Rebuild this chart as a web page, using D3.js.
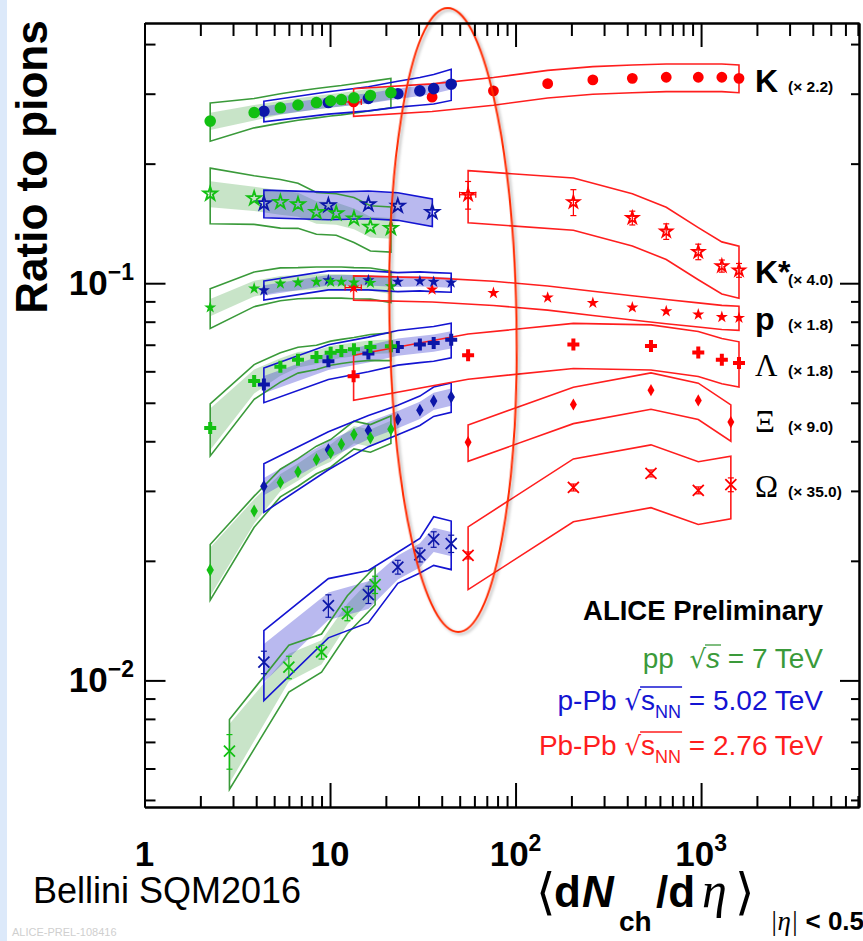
<!DOCTYPE html>
<html><head><meta charset="utf-8">
<script src="https://cdn.jsdelivr.net/npm/d3@7"></script>
<style>body{margin:0;background:#fff} svg{display:block}</style>
</head><body><svg id="c" width="863" height="941"></svg>
<script>
// ---------------- DATA (values as plotted, i.e. already scaled) ----------------
const ppMult        = [2.26, 3.90, 5.40, 6.72, 8.45, 10.08, 11.51, 13.46, 16.51, 21.29];
const ppKstarMult   = [2.26, 3.90, 5.40, 6.72, 8.45, 10.8, 13.46, 16.51, 21.29];
const ppOmegaMult   = [2.87, 6.0, 9.0, 12.4, 17.5];
const pPbMult       = [4.4, 9.8, 16.1, 23.2, 30.5, 36.2, 45.0];
const pPbKstarMult  = [4.4, 9.8, 16.1, 23.2, 35.6];
const PbPbMult      = [13.4, 35.5, 76, 149, 261, 426, 649, 966, 1294, 1601];
const PbPbKstarMult = [55.5, 205, 426, 649, 966, 1294, 1601];
const PbPbLambdaMult= [13.4, 55.5, 205, 537, 966, 1294, 1601];
const PbPbMSMult    = [55.5, 205, 537, 966, 1447];

// K (x 2.2)
const ppK   = [0.256, 0.269, 0.2765, 0.281, 0.285, 0.288, 0.290, 0.293, 0.297, 0.302];
const pPbK  = [0.271, 0.285, 0.292, 0.300, 0.305, 0.309, 0.317];
const PbPbK = [0.286, 0.294, 0.305, 0.318, 0.325, 0.328, 0.330, 0.330, 0.330, 0.328];
const ppKSys   = [0.11, 0.085, 0.085, 0.085, 0.085, 0.085, 0.085, 0.085, 0.085, 0.085];
const ppKBand  = [0.05, 0.045, 0.04, 0.04, 0.04, 0.04, 0.04, 0.04, 0.04, 0.04];
const pPbKSys  = [0.06, 0.065, 0.07, 0.075, 0.08, 0.085, 0.09];
const pPbKBand = [0.03, 0.03, 0.03, 0.03, 0.03, 0.03, 0.03];
const PbPbKSys = [0.08, 0.08, 0.08, 0.08, 0.08, 0.08, 0.08, 0.08, 0.08, 0.08];

// K* (x 4.0)
const ppKstar   = [0.168, 0.1635, 0.160, 0.158, 0.151, 0.150, 0.1455, 0.1386, 0.1377];
const pPbKstar  = [0.1588, 0.157, 0.158, 0.1565, 0.151];
const PbPbKstar = [0.167, 0.160, 0.146, 0.135, 0.120, 0.1105, 0.1078];
const ppKstarSys   = [0.16, 0.14, 0.14, 0.13, 0.12, 0.12, 0.13, 0.13, 0.13];
const ppKstarBand  = [0.075, 0.07, 0.07, 0.07, 0.065, 0.065, 0.06, 0.06, 0.06];
const pPbKstarSys  = [0.08, 0.08, 0.08, 0.08, 0.08];
const pPbKstarBand = [0.08, 0.08, 0.08, 0.08, 0.08];
const PbPbKstarSys = [0.15, 0.15, 0.15, 0.15, 0.15, 0.15, 0.15];
const PbPbKstarStat = [0.08, 0.075, 0.04, 0.045, 0.045, 0.035, 0.04];

// p (x 1.8)
const ppP   = [0.0869, 0.0970, 0.0998, 0.1004, 0.1008, 0.1008, 0.1008, 0.1004, 0.1002, 0.0983];
const pPbP  = [0.0960, 0.1018, 0.1018, 0.1008, 0.1012, 0.1008, 0.1004];
const PbPbP = [0.0975, 0.0964, 0.0945, 0.0920, 0.0892, 0.0869, 0.0850, 0.0834, 0.0822, 0.0818];
const ppPSys   = [0.115, 0.10, 0.095, 0.09, 0.09, 0.09, 0.09, 0.09, 0.09, 0.09];
const ppPBand  = [0.05, 0.045, 0.045, 0.045, 0.045, 0.045, 0.045, 0.045, 0.045, 0.045];
const pPbPSys  = [0.055, 0.055, 0.055, 0.055, 0.055, 0.055, 0.055];
const pPbPBand = [0.03, 0.03, 0.03, 0.03, 0.03, 0.03, 0.03];
const PbPbPSys = [0.07, 0.07, 0.07, 0.07, 0.07, 0.07, 0.07, 0.07, 0.07, 0.07];

// Lambda (x 1.8)
const ppL   = [0.0432, 0.0567, 0.0616, 0.0642, 0.0652, 0.0668, 0.0675, 0.0682, 0.0691, 0.0694];
const pPbL  = [0.0556, 0.0636, 0.0665, 0.0691, 0.0701, 0.0707, 0.0721];
const PbPbL = [0.0583, 0.0659, 0.0701, 0.0695, 0.0669, 0.0642, 0.0630];
const ppLSys   = [0.15, 0.10, 0.085, 0.075, 0.07, 0.07, 0.07, 0.07, 0.075, 0.08];
const ppLBand  = [0.12, 0.07, 0.05, 0.045, 0.04, 0.04, 0.04, 0.04, 0.04, 0.04];
const pPbLSys  = [0.10, 0.10, 0.10, 0.10, 0.10, 0.10, 0.10];
const pPbLBand = [0.05, 0.05, 0.05, 0.05, 0.05, 0.05, 0.05];
const PbPbLSys = [0.13, 0.13, 0.13, 0.13, 0.13, 0.13, 0.13];

// Xi (x 9.0)
const ppXi   = [0.01896, 0.0267, 0.0315, 0.0335, 0.0360, 0.0374, 0.0393, 0.0416, 0.0408, 0.0429];
const pPbXi  = [0.0308, 0.0381, 0.0426, 0.0454, 0.0479, 0.0505, 0.0517];
const PbPbXi = [0.0398, 0.0495, 0.0538, 0.0507, 0.0447];
const ppXiSys   = [0.16, 0.09, 0.08, 0.08, 0.08, 0.08, 0.08, 0.08, 0.08, 0.08];
const ppXiBand  = [0.14, 0.07, 0.05, 0.05, 0.05, 0.05, 0.05, 0.05, 0.05, 0.05];
const pPbXiSys  = [0.14, 0.11, 0.09, 0.085, 0.085, 0.085, 0.085];
const pPbXiBand = [0.05, 0.05, 0.05, 0.05, 0.05, 0.05, 0.05];
const PbPbXiSys = [0.105, 0.105, 0.105, 0.105, 0.105];

// Omega (x 35.0)
const ppOm   = [0.00664, 0.0108, 0.01179, 0.01472, 0.01742];
const pPbOm  = [0.01112, 0.01542, 0.01644, 0.01929, 0.0207, 0.02265, 0.0221];
const PbPbOm = [0.02064, 0.0306, 0.0332, 0.0301, 0.0311];
const ppOmSys   = [0.20, 0.135, 0.11, 0.11, 0.11];
const ppOmBand  = [0.17, 0.08, 0.07, 0.06, 0.06];
const pPbOmSys  = [0.20, 0.17, 0.15, 0.09, 0.10, 0.14, 0.14];
const pPbOmBand = [0.11, 0.08, 0.08, 0.07, 0.07, 0.07, 0.07];
const PbPbOmSys = [0.18, 0.18, 0.18, 0.18, 0.18];
const ppOmStat   = [0.10, 0.065, 0.04, 0.04, 0.05];
const pPbOmStat  = [0.065, 0.065, 0.05, 0.04, 0.04, 0.045, 0.05];
const PbPbOmStat = [0.02, 0.02, 0.02, 0.02, 0.04];

// labels
const speciesNames  = ["K", "K*", "p", "Λ", "Ξ", "Ω"];
const speciesScales = ["(× 2.2)", "(× 4.0)", "(× 1.8)", "(× 1.8)", "(× 9.0)", "(× 35.0)"];
const xTickLabels = [{v:1, b:"1", s:""}, {v:10, b:"10", s:""}, {v:100, b:"10", s:"2"}, {v:1000, b:"10", s:"3"}];
const yTickLabels = [{v:0.1, b:"10", s:"−1"}, {v:0.01, b:"10", s:"−2"}];

// ---------------- DRAWING ----------------
const SANS = "'Liberation Sans', Arial, Helvetica, sans-serif";
const SERIF = "'Liberation Serif', 'Times New Roman', serif";
const svg = d3.select("#c");
svg.append("rect").attr("width",863).attr("height",941).attr("fill","#fff");
svg.append("rect").attr("width",7).attr("height",941).attr("fill","#dce9fa");

const X0=144.5, X1=859, Y0=807, Y1=23;
const x = d3.scaleLog().domain([1, 7100]).range([X0, X1]);
const y = d3.scaleLog().domain([0.0048, 0.452]).range([Y0, Y1]);

const defs = svg.append("defs");
const filt = defs.append("filter").attr("id","sh").attr("x","-30%").attr("y","-10%").attr("width","160%").attr("height","120%");
filt.append("feDropShadow").attr("dx",2).attr("dy",2).attr("stdDeviation",1.5).attr("flood-color","#000").attr("flood-opacity",0.3);

const C = {
  pp:   {mk:"#12c012", ln:"#3a9a3a", band:"rgba(118,188,118,0.40)"},
  pPb:  {mk:"#0c16a8", ln:"#1414d2", band:"rgba(60,60,210,0.36)"},
  PbPb: {mk:"#ff0000", ln:"#ff1e1e"}
};

const xSym = { draw(ctx, size){ const r=Math.sqrt(size)/2; ctx.moveTo(-r,-r); ctx.lineTo(r,r); ctx.moveTo(-r,r); ctx.lineTo(r,-r);} };

const series = [
  {sys:"pp",  xs:ppMult,       ys:ppK,     e:ppKSys,     b:ppKBand,     m:"circle", sz:106},
  {sys:"pPb", xs:pPbMult,      ys:pPbK,    e:pPbKSys,    b:pPbKBand,    m:"circle", sz:106},
  {sys:"PbPb",xs:PbPbMult,     ys:PbPbK,   e:PbPbKSys,                  m:"circle", sz:92, hx:[0.1]},
  {sys:"pp",  xs:ppKstarMult,  ys:ppKstar, e:ppKstarSys, b:ppKstarBand, m:"ostar", sz:58},
  {sys:"pPb", xs:pPbKstarMult, ys:pPbKstar,e:pPbKstarSys,b:pPbKstarBand,m:"ostar", sz:58},
  {sys:"PbPb",xs:PbPbKstarMult,ys:PbPbKstar,e:PbPbKstarSys,             m:"ostar", sz:44, st:PbPbKstarStat, hx:[0.1]},
  {sys:"pp",  xs:ppMult,       ys:ppP,     e:ppPSys,     b:ppPBand,     m:"star", sz:46},
  {sys:"pPb", xs:pPbMult,      ys:pPbP,    e:pPbPSys,    b:pPbPBand,    m:"star", sz:46},
  {sys:"PbPb",xs:PbPbMult,     ys:PbPbP,   e:PbPbPSys,                  m:"star", sz:46, hx:[0.1]},
  {sys:"pp",  xs:ppMult,       ys:ppL,     e:ppLSys,     b:ppLBand,     m:"cross", sz:80},
  {sys:"pPb", xs:pPbMult,      ys:pPbL,    e:pPbLSys,    b:pPbLBand,    m:"cross", sz:80},
  {sys:"PbPb",xs:PbPbLambdaMult,ys:PbPbL,  e:PbPbLSys,                  m:"cross", sz:80},
  {sys:"pp",  xs:ppMult,       ys:ppXi,    e:ppXiSys,    b:ppXiBand,    m:"diamond", sz:48},
  {sys:"pPb", xs:pPbMult,      ys:pPbXi,   e:pPbXiSys,   b:pPbXiBand,   m:"diamond", sz:48},
  {sys:"PbPb",xs:PbPbMSMult,   ys:PbPbXi,  e:PbPbXiSys,                 m:"diamond", sz:42},
  {sys:"pp",  xs:ppOmegaMult,  ys:ppOm,    e:ppOmSys,    b:ppOmBand,    m:"x", sz:121, st:ppOmStat},
  {sys:"pPb", xs:pPbMult,      ys:pPbOm,   e:pPbOmSys,   b:pPbOmBand,   m:"x", sz:121, st:pPbOmStat},
  {sys:"PbPb",xs:PbPbMSMult,   ys:PbPbOm,  e:PbPbOmSys,                 m:"x", sz:121, st:PbPbOmStat}
];

function envelope(s, rel){
  const up = s.xs.map((v,i)=>[x(v), y(s.ys[i]*(1+rel[i]))]);
  const lo = s.xs.map((v,i)=>[x(v), y(s.ys[i]*(1-rel[i]))]).reverse();
  return d3.line()(up.concat(lo)) + "Z";
}

const gBand = svg.append("g"), gOut = svg.append("g"), gErr = svg.append("g"), gMk = svg.append("g");
["pp","pPb"].forEach(sy => series.filter(s=>s.sys===sy && s.b).forEach(s=>{
  gBand.append("path").attr("d", envelope(s, s.b)).attr("fill", C[sy].band).attr("stroke","none");
}));
["pp","pPb","PbPb"].forEach(sy => series.filter(s=>s.sys===sy).forEach(s=>{
  gOut.append("path").attr("d", envelope(s, s.e)).attr("fill","none")
    .attr("stroke", C[sy].ln).attr("stroke-width",1.6).attr("stroke-linejoin","miter");
}));

const symType = {circle:d3.symbolCircle, ostar:d3.symbolStar, star:d3.symbolStar, cross:d3.symbolCross, diamond:d3.symbolDiamond, x:xSym};
["PbPb","pPb","pp"].forEach(sy => series.filter(s=>s.sys===sy).forEach(s=>{
  const col = C[sy].mk;
  if (s.st) s.xs.forEach((v,i)=>{
    const px=x(v), ya=y(s.ys[i]*(1+s.st[i])), yb=y(s.ys[i]*(1-s.st[i]));
    gErr.append("line").attr("x1",px).attr("x2",px).attr("y1",ya).attr("y2",yb).attr("stroke",col).attr("stroke-width",1.2);
    [ya,yb].forEach(yy=>gErr.append("line").attr("x1",px-3).attr("x2",px+3).attr("y1",yy).attr("y2",yy).attr("stroke",col).attr("stroke-width",1.2));
  });
  if (s.hx) s.hx.forEach((h,i)=>{
    const py=y(s.ys[i]), xa=x(s.xs[i]*(1-h)), xb=x(s.xs[i]*(1+h));
    gErr.append("line").attr("x1",xa).attr("x2",xb).attr("y1",py).attr("y2",py).attr("stroke",col).attr("stroke-width",1.2);
    [xa,xb].forEach(xx=>gErr.append("line").attr("x1",xx).attr("x2",xx).attr("y1",py-3).attr("y2",py+3).attr("stroke",col).attr("stroke-width",1.2));
  });
  const sym = d3.symbol().type(symType[s.m]).size(s.sz);
  s.xs.forEach((v,i)=>{
    const p = gMk.append("path").attr("d", sym()).attr("transform",`translate(${x(v)},${y(s.ys[i])})`);
    if (s.m==="ostar") p.attr("fill","none").attr("stroke",col).attr("stroke-width",1.8).attr("stroke-linejoin","miter");
    else if (s.m==="x") p.attr("fill","none").attr("stroke",col).attr("stroke-width",1.8);
    else p.attr("fill",col);
  });
}));

// ellipse highlight
svg.append("ellipse").attr("cx",453).attr("cy",320).attr("rx",63.5).attr("ry",312)
  .attr("transform","rotate(-1,453,320)").attr("fill","none").attr("stroke","#ff2a00").attr("stroke-width",2)
  .attr("filter","url(#sh)");

// axes
const xMajor=[1,10,100,1000], yMajor=[0.01,0.1];
const xMinor=x.ticks().filter(v=>!xMajor.includes(v)), yMinor=y.ticks().filter(v=>!yMajor.some(m=>Math.abs(m-v)<1e-9));
function ax(gen, tv, size, tr){
  const g = svg.append("g").attr("transform",tr).call(gen.tickValues(tv).tickSize(size).tickSizeOuter(0).tickFormat(""));
  g.attr("color","#000"); g.selectAll("line").attr("stroke-width",2); g.select(".domain").attr("stroke-width",2);
}
ax(d3.axisBottom(x), xMajor, -24, `translate(0,${Y0})`);
ax(d3.axisBottom(x), xMinor, -11, `translate(0,${Y0})`);
ax(d3.axisTop(x), xMajor, -24, `translate(0,${Y1})`);
ax(d3.axisTop(x), xMinor, -13, `translate(0,${Y1})`);
ax(d3.axisLeft(y), yMajor, -21, `translate(${X0},0)`);
ax(d3.axisLeft(y), yMinor, -11, `translate(${X0},0)`);
ax(d3.axisRight(y), yMajor, -19, `translate(${X1},0)`);
ax(d3.axisRight(y), yMinor, -8, `translate(${X1},0)`);

// tick labels
xTickLabels.forEach(t=>{
  const tx = svg.append("text").attr("x", x(t.v)).attr("y", 866).attr("text-anchor","middle")
    .attr("font-family",SANS).attr("font-weight","bold").attr("font-size",35).text(t.b);
  if (t.s) tx.append("tspan").attr("dy",-15).attr("font-size",23).text(t.s);
});
yTickLabels.forEach(t=>{
  const tx = svg.append("text").attr("x", 134).attr("y", y(t.v)+12).attr("text-anchor","end")
    .attr("font-family",SANS).attr("font-weight","bold").attr("font-size",35).text(t.b);
  tx.append("tspan").attr("dy",-15).attr("font-size",23).text(t.s);
});

// axis titles
svg.append("text").attr("transform","translate(47,167) rotate(-90)").attr("text-anchor","middle")
  .attr("font-family",SANS).attr("font-weight","bold").attr("font-size",44).text("Ratio to pions");

const xt = svg.append("text").attr("y",907).attr("font-family",SANS).attr("font-weight","bold").attr("font-size",44);
xt.append("tspan").attr("x",536).attr("font-family",SERIF).attr("font-weight","normal").attr("font-size",50).attr("dy",2).text("⟨");
xt.append("tspan").attr("x",554).attr("dy",-2).text("d");
xt.append("tspan").attr("x",582).attr("font-style","italic").text("N");
xt.append("tspan").attr("x",619).attr("font-size",28).attr("dy",24).text("ch");
xt.append("tspan").attr("x",656).attr("dy",-24).text("/d");
xt.append("tspan").attr("x",702).attr("font-family",SERIF).attr("font-style","italic").attr("font-weight","normal").attr("font-size",50).text("η");
xt.append("tspan").attr("x",735).attr("font-family",SERIF).attr("font-weight","normal").attr("font-size",50).attr("dy",2).text("⟩");
xt.append("tspan").attr("x",770).attr("font-size",27).attr("dy",21).attr("font-family",SERIF).attr("font-style","italic").attr("font-weight","normal").text("|η|");
xt.append("tspan").attr("font-size",26).text(" < 0.5");

svg.append("text").attr("x",33).attr("y",903).attr("font-family",SANS).attr("font-size",36).text("Bellini SQM2016");
svg.append("text").attr("x",12).attr("y",936).attr("font-family",SANS).attr("font-size",11).attr("fill","#cfcfcf").text("ALICE-PREL-108416");

// species labels
const labY = [92, 283, 330, 376, 432, 497];
speciesNames.forEach((n,i)=>{
  const serif = i>=3;
  svg.append("text").attr("x",755).attr("y",labY[i]).attr("font-family", serif?SERIF:SANS)
    .attr("font-weight", serif?"normal":"bold").attr("font-size", serif?31:32).text(n);
  svg.append("text").attr("x",788).attr("y",labY[i]+(i===1?2:0)).attr("font-family",SANS)
    .attr("font-weight","bold").attr("font-size",15.5).text(speciesScales[i]);
});

// legend
svg.append("text").attr("x",823).attr("y",620).attr("text-anchor","end").attr("font-family",SANS)
  .attr("font-weight","bold").attr("font-size",27.5).text("ALICE Preliminary");
function sqrtLegend(yb, col, pre, sub, post){
  const t = svg.append("text").attr("x",823).attr("y",yb).attr("text-anchor","end").attr("font-family",SANS)
    .attr("font-size",28).attr("fill",col);
  t.append("tspan").text(pre);
  t.append("tspan").attr("font-family","'DejaVu Sans'").attr("font-weight","normal").attr("font-size",26).text("√");
  t.append("tspan").attr("font-style", sub? "normal":"italic").text("s");
  if (sub) { t.append("tspan").attr("font-size",18).attr("dy",8).text(sub); }
  t.append("tspan").attr("dy", sub? -8:0).text(post);
  const node = t.node(), txt = node.textContent;
  const i0 = txt.indexOf("√"), i1 = i0 + 1 + (sub? sub.length : 0);
  const xs = node.getEndPositionOfChar(i0).x, xe = node.getEndPositionOfChar(i1).x;
  svg.append("line").attr("x1",xs-1).attr("x2",xe+1).attr("y1",yb-23).attr("y2",yb-23).attr("stroke",col).attr("stroke-width",1.3);
}
sqrtLegend(668, "#3a9a3a", "pp\u00A0\u00A0", "", " = 7 TeV");
sqrtLegend(710, "#1414d2", "p-Pb ", "NN", " = 5.02 TeV");
sqrtLegend(755, "#ff1e1e", "Pb-Pb ", "NN", " = 2.76 TeV");
</script></body></html>
